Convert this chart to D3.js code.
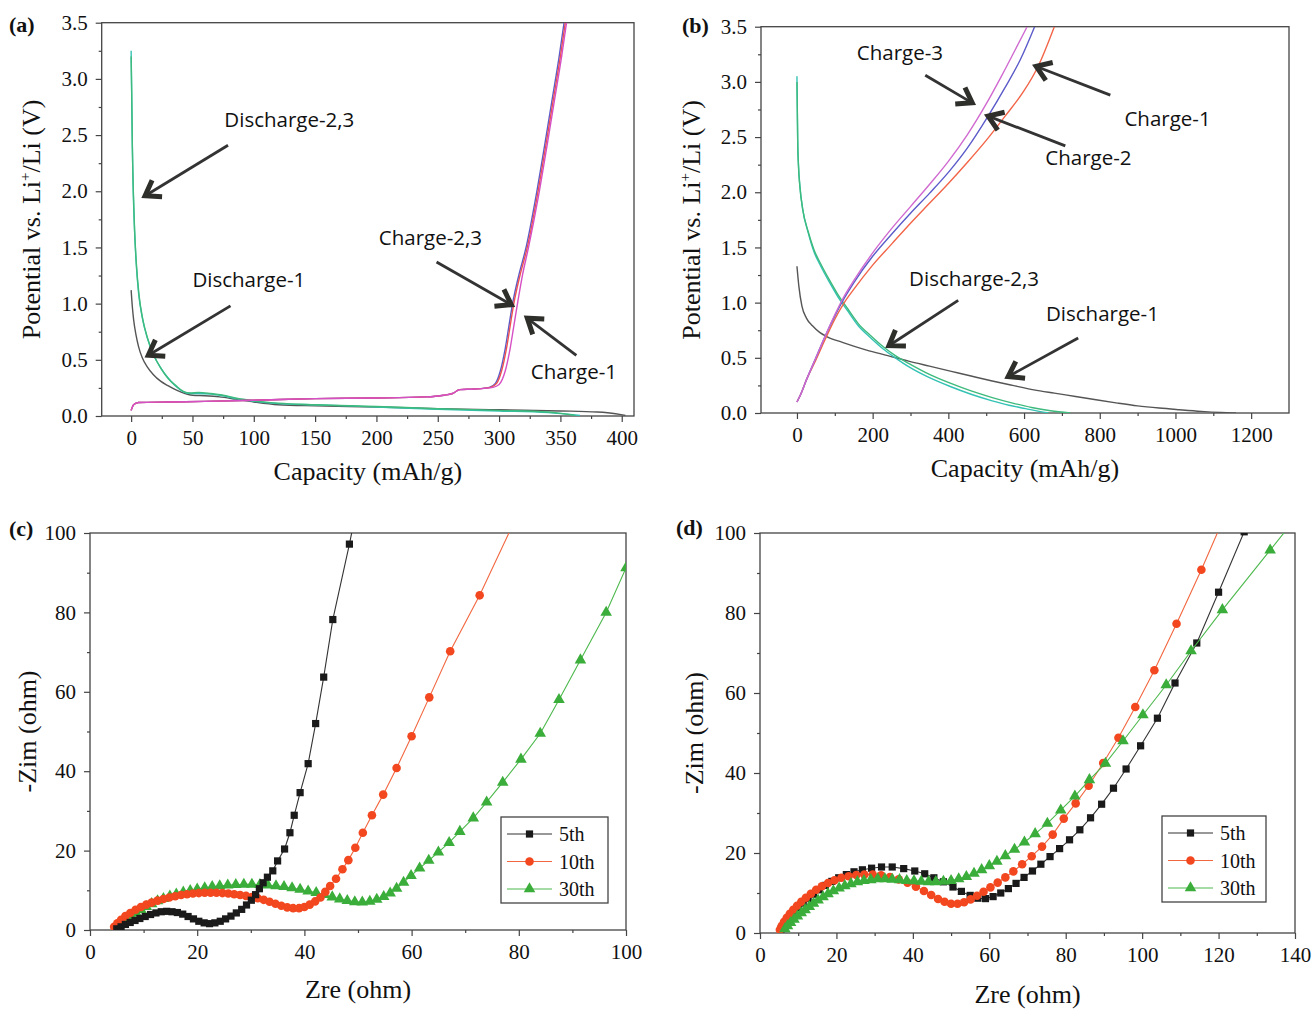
<!DOCTYPE html>
<html>
<head>
<meta charset="utf-8">
<script src="https://cdn.jsdelivr.net/npm/d3@7"></script>
<style>
  body { margin: 0; background: #fff; }
  text { font-family: "Liberation Serif", "Times New Roman", serif; fill: #111; }
  .note { font-family: "Open Sans", "Lato", sans-serif; }
</style>
</head>
<body>
<div id="chart"></div>
<script>
// ---- (a) charge/discharge, capacity (mAh/g) vs potential (V)
var aDis1 = [[0,1.12],[1,0.97],[2,0.86],[4,0.72],[6,0.62],[9,0.52],[13,0.44],[18,0.37],[24,0.31],[30,0.27],[37,0.23],[44,0.2],[50,0.185],[60,0.18],[72,0.17],[85,0.15],[100,0.125],[120,0.1],[150,0.09],[200,0.08],[250,0.065],[300,0.055],[350,0.045],[380,0.035],[395,0.02],[403,0.005]];
var aDis2 = [[0,3.25],[0.4,2.9],[0.9,2.45],[1.6,2.05],[2.6,1.7],[4,1.38],[6,1.1],[9,0.88],[13,0.7],[18,0.55],[24,0.43],[30,0.34],[36,0.27],[42,0.22],[48,0.2],[55,0.2],[65,0.195],[75,0.18],[85,0.155],[100,0.13],[120,0.11],[150,0.1],[200,0.08],[250,0.06],[300,0.045],[340,0.03],[366,0.005]];
var aDis3 = [[0,3.2],[0.5,2.85],[1,2.4],[1.8,2.0],[2.8,1.66],[4.3,1.35],[6.4,1.08],[9.5,0.86],[13.5,0.69],[18.5,0.54],[24.5,0.42],[30.5,0.33],[36.5,0.27],[42.5,0.22],[48,0.205],[55,0.21],[65,0.2],[75,0.185],[85,0.16],[100,0.135],[120,0.115],[150,0.1],[200,0.085],[250,0.065],[300,0.05],[340,0.035],[362,0.005]];
var aChg1 = [[0,0.05],[2,0.1],[6,0.12],[30,0.125],[60,0.13],[100,0.14],[150,0.155],[200,0.16],[240,0.17],[255,0.185],[262,0.2],[268,0.235],[280,0.24],[295,0.255],[300,0.28],[305,0.4],[309,0.6],[312,0.8],[315,1.0],[319,1.25],[324,1.5],[332,1.95],[339,2.4],[345,2.8],[351,3.2],[355,3.5]];
var aChg2 = [[0,0.05],[2,0.1],[6,0.12],[30,0.125],[60,0.13],[100,0.14],[150,0.155],[200,0.16],[240,0.17],[255,0.185],[262,0.2],[268,0.235],[280,0.24],[292,0.255],[297,0.29],[301,0.4],[305,0.6],[308,0.8],[311,1.0],[316,1.25],[322,1.5],[330,1.95],[337,2.4],[343,2.8],[349,3.2],[353,3.5]];
var aChg3 = [[0,0.05],[2,0.1],[6,0.12],[30,0.125],[60,0.13],[100,0.14],[150,0.155],[200,0.16],[240,0.17],[255,0.185],[262,0.2],[268,0.235],[280,0.24],[293,0.255],[298,0.29],[302,0.4],[306,0.6],[309,0.8],[312,1.0],[317,1.25],[323,1.5],[331,1.95],[338,2.4],[344,2.8],[350,3.2],[354,3.5]];

// ---- (b)
var bDis1 = [[0,1.33],[5,1.15],[13,0.97],[25,0.86],[41,0.79],[60,0.73],[80,0.69],[120,0.64],[184,0.57],[240,0.52],[295,0.47],[350,0.425],[405,0.38],[460,0.335],[516,0.29],[570,0.25],[626,0.21],[680,0.18],[736,0.15],[790,0.12],[847,0.09],[900,0.065],[957,0.045],[1010,0.03],[1068,0.015],[1120,0.005],[1160,0]];
var bDis2 = [[0,3.05],[1,2.75],[2,2.47],[4,2.25],[8,2.05],[15,1.85],[30,1.63],[45,1.46],[63,1.33],[85,1.19],[107,1.06],[135,0.92],[162,0.79],[195,0.68],[228,0.58],[260,0.5],[295,0.42],[350,0.32],[405,0.24],[460,0.17],[516,0.11],[560,0.07],[604,0.04],[640,0.015],[665,0]];
var bDis3 = [[0,3.0],[1,2.72],[2,2.45],[4,2.24],[8,2.04],[15,1.85],[30,1.64],[45,1.48],[63,1.35],[85,1.21],[107,1.08],[135,0.94],[162,0.81],[195,0.7],[228,0.6],[260,0.52],[295,0.45],[350,0.35],[405,0.27],[460,0.2],[516,0.14],[570,0.09],[620,0.05],[670,0.02],[722,0]];
var bChg1 = [[0,0.1],[10,0.17],[25,0.3],[50,0.48],[75,0.67],[100,0.85],[125,1.0],[150,1.12],[200,1.34],[250,1.53],[300,1.72],[350,1.9],[400,2.08],[450,2.27],[500,2.47],[550,2.69],[600,2.92],[637,3.14],[680,3.5]];
var bChg2 = [[0,0.1],[10,0.17],[25,0.3],[50,0.5],[75,0.7],[100,0.88],[125,1.04],[150,1.18],[200,1.42],[250,1.62],[300,1.81],[350,1.99],[400,2.18],[450,2.4],[505,2.69],[550,2.95],[590,3.2],[628,3.5]];
var bChg3 = [[0,0.1],[10,0.17],[25,0.3],[50,0.5],[75,0.7],[100,0.89],[125,1.06],[150,1.2],[200,1.45],[250,1.67],[300,1.87],[350,2.07],[400,2.28],[450,2.52],[500,2.8],[540,3.05],[575,3.28],[608,3.5]];

// ---- (c) Nyquist, Zre vs -Zim
var c5 = [[5,0.3],[5.8,0.8],[6.6,1.4],[7.5,1.9],[8.4,2.4],[9.3,2.9],[10.3,3.4],[11.3,3.9],[12.3,4.3],[13.3,4.6],[14.3,4.7],[15.3,4.6],[16.3,4.4],[17.3,4.0],[18.3,3.4],[19.3,2.8],[20.3,2.2],[21.3,1.8],[22.3,1.6],[23.3,1.8],[24.3,2.2],[25.3,2.8],[26.3,3.5],[27.3,4.3],[28.3,5.2],[29.2,6.3],[30.1,7.5],[30.9,8.9],[31.6,10.4],[32.3,11.9],[33.1,13.3],[34.1,14.9],[35.0,17.4],[36.3,20.4],[37.3,24.5],[38.1,28.9],[39.2,34.6],[40.7,41.9],[42.1,52],[43.6,63.7],[45.3,78.2],[48.4,97.2],[51.5,118]];
var c10 = [[4.5,0.8],[5.1,1.7],[5.8,2.6],[6.6,3.5],[7.5,4.3],[8.5,5.1],[9.5,5.8],[10.5,6.4],[11.5,6.9],[12.6,7.4],[13.7,7.8],[14.8,8.2],[15.9,8.5],[17,8.8],[18.1,9],[19.2,9.2],[20.3,9.3],[21.4,9.4],[22.5,9.4],[23.6,9.4],[24.7,9.3],[25.8,9.2],[26.9,9],[28,8.8],[29.1,8.6],[30.2,8.3],[31.3,8],[32.4,7.6],[33.5,7.1],[34.6,6.6],[35.7,6.1],[36.8,5.7],[37.9,5.5],[39,5.5],[40,5.8],[41,6.4],[42,7.2],[43,8.2],[43.9,9.6],[44.8,11.1],[45.9,12.9],[47.1,15.3],[48.2,17.6],[49.5,20.7],[50.9,24.5],[52.6,28.9],[54.7,34.1],[57.2,40.8],[60,48.8],[63.3,58.6],[67.2,70.2],[72.7,84.3],[79.2,103]];
var c30 = [[7,2.5],[7.8,3.4],[8.6,4.3],[9.5,5.1],[10.5,5.9],[11.5,6.6],[12.6,7.3],[13.7,7.9],[14.9,8.5],[16.1,9],[17.4,9.5],[18.7,9.9],[20,10.3],[21.4,10.6],[22.8,10.9],[24.2,11.1],[25.7,11.3],[27.2,11.4],[28.7,11.5],[30.2,11.5],[31.7,11.4],[33.2,11.3],[34.7,11.1],[36.2,10.9],[37.7,10.6],[39.2,10.2],[40.7,9.8],[42.2,9.4],[43.7,8.9],[45.2,8.3],[46.6,7.8],[48,7.4],[49.4,7.1],[50.8,7.0],[52.2,7.2],[53.5,7.7],[54.8,8.4],[56,9.3],[57.2,10.5],[58.5,12.0],[59.9,13.7],[61.5,15.6],[63.2,17.5],[65,19.6],[67,22],[69,24.8],[71.5,28.2],[74,32.2],[77,37.2],[80.4,43],[84,49.5],[87.5,58],[91.5,68],[96.3,80],[100,91.2],[104.5,103]];

// ---- (d)
var d5 = [[5.5,1],[6.3,2.2],[7.1,3.3],[8,4.3],[9,5.4],[10.1,6.4],[11.3,7.5],[12.6,8.6],[14,9.7],[15.5,10.8],[17.1,11.9],[18.8,12.9],[20.6,13.8],[22.6,14.6],[24.6,15.3],[26.8,15.8],[29.2,16.2],[31.8,16.5],[34.6,16.5],[37.6,16.1],[40.5,15.5],[43.1,14.8],[45.5,13.8],[48,12.8],[50.5,11.5],[52.7,10.4],[55,9.4],[57,8.7],[59,8.6],[61,9.1],[63,10],[65,11.1],[67,12.4],[69.1,13.9],[71.3,15.5],[73.5,17.2],[75.9,19.1],[78.4,21.1],[81,23.3],[83.7,25.8],[86.5,28.8],[89.4,32.2],[92.5,36.2],[95.8,41],[99.6,46.8],[104,53.7],[108.6,62.5],[114.3,72.5],[120,85.2],[126.7,100.3]];
var d10 = [[5.2,0.8],[5.7,1.8],[6.3,2.8],[7,3.8],[7.8,4.8],[8.7,5.8],[9.7,6.8],[10.8,7.8],[12,8.8],[13.3,9.8],[14.7,10.8],[16.2,11.7],[17.8,12.5],[19.5,13.2],[21.3,13.8],[23.2,14.2],[25.2,14.5],[27.3,14.6],[29.5,14.6],[31.7,14.4],[34,14],[36.3,13.4],[38.6,12.6],[40.8,11.6],[42.9,10.5],[44.8,9.5],[46.6,8.5],[48.3,7.8],[50,7.3],[51.7,7.3],[53.4,7.7],[55.1,8.4],[56.8,9.3],[58.5,10.3],[60.3,11.4],[62.2,12.6],[64.2,13.9],[66.3,15.4],[68.6,17.2],[71.1,19.2],[73.8,21.6],[76.6,24.6],[79.5,28.6],[82.6,32.4],[86,36.8],[89.8,42.5],[93.8,48.8],[98.2,56.5],[103.2,65.7],[109,77.3],[115.5,90.8],[121.5,104]];
var d30 = [[6.5,1],[7.2,1.8],[8,2.6],[8.9,3.4],[9.8,4.2],[10.8,5],[11.8,5.8],[12.9,6.6],[14,7.4],[15.2,8.2],[16.5,9],[17.8,9.8],[19.2,10.5],[20.7,11.2],[22.2,11.8],[23.8,12.3],[25.5,12.8],[27.2,13.1],[29,13.3],[30.8,13.5],[32.7,13.5],[34.6,13.4],[36.5,13.3],[38.4,13.1],[40.3,13],[42.2,12.9],[44.1,12.8],[46,12.8],[48,12.9],[50,13.1],[52,13.5],[54,14.1],[56,14.9],[58,15.8],[60,16.8],[62,17.9],[64.2,19.3],[66.6,20.9],[69.2,22.7],[72,24.8],[75.2,27.4],[78.7,30.7],[82.4,34.2],[86.2,38.3],[90.4,42.4],[95,48],[100.2,54.5],[106.3,62],[112.8,70.5],[121,80.8],[133.5,95.7],[140,103.5]];

var cycleNames = ["5th", "10th", "30th"];

// annotations (text, label centre, arrow from -> to), in data units
var notesA = [
  {text: "Discharge-2,3", tx: 129, ty: 2.63, x1: 79, y1: 2.41, x2: 11.4, y2: 1.96},
  {text: "Discharge-1",   tx: 96,  ty: 1.21, x1: 81, y1: 0.98, x2: 14, y2: 0.54},
  {text: "Charge-2,3",    tx: 244, ty: 1.58, x1: 249, y1: 1.37, x2: 310, y2: 0.99},
  {text: "Charge-1",      tx: 361, ty: 0.39, x1: 363, y1: 0.54, x2: 323, y2: 0.87}
];
var notesB = [
  {text: "Charge-3",      tx: 272, ty: 3.26, x1: 339, y1: 3.06, x2: 463, y2: 2.81},
  {text: "Charge-1",      tx: 979, ty: 2.66, x1: 828, y1: 2.88, x2: 632, y2: 3.14},
  {text: "Charge-2",      tx: 770, ty: 2.31, x1: 709, y1: 2.42, x2: 505, y2: 2.69},
  {text: "Discharge-2,3", tx: 468, ty: 1.21, x1: 426, y1: 1.02, x2: 243, y2: 0.61},
  {text: "Discharge-1",   tx: 807, ty: 0.9,  x1: 743, y1: 0.68, x2: 558, y2: 0.33}
];

var svg = d3.select("#chart").append("svg")
    .attr("width", 1314)
    .attr("height", 1009);

var frameColor = "#444";

// builds one panel: scales, ticks, frame and clip
function makePanel(p) {
  var x = d3.scaleLinear().domain(p.xd).range([p.l, p.r]);
  var y = d3.scaleLinear().domain(p.yd).range([p.b, p.t]);
  var g = svg.append("g");

  g.append("clipPath").attr("id", "clip-" + p.id)
    .append("rect")
      .attr("x", p.l).attr("y", p.t)
      .attr("width", p.r - p.l).attr("height", p.b - p.t);

  // minor ticks
  g.append("g")
      .attr("transform", "translate(0," + p.b + ")")
      .call(d3.axisBottom(x).tickValues(p.xMinor).tickSize(3).tickFormat(""));
  g.append("g")
      .attr("transform", "translate(" + p.l + ",0)")
      .call(d3.axisLeft(y).tickValues(p.yMinor).tickSize(3).tickFormat(""));

  // major ticks with labels
  g.append("g")
      .attr("transform", "translate(0," + p.b + ")")
      .call(d3.axisBottom(x).tickValues(p.xMajor).tickSize(6).tickPadding(8).tickFormat(p.xf));
  g.append("g")
      .attr("transform", "translate(" + p.l + ",0)")
      .call(d3.axisLeft(y).tickValues(p.yMajor).tickSize(6).tickPadding(8).tickFormat(p.yf));

  g.selectAll(".domain").remove();
  g.selectAll(".tick line").attr("stroke", frameColor).attr("stroke-width", 1.2);
  g.selectAll(".tick text")
      .style("font-family", "'Liberation Serif', serif")
      .style("font-size", "21px")
      .attr("fill", "#111");

  // frame
  g.append("rect")
      .attr("x", p.l).attr("y", p.t)
      .attr("width", p.r - p.l).attr("height", p.b - p.t)
      .attr("fill", "none")
      .attr("stroke", frameColor)
      .attr("stroke-width", 1.3);

  // axis titles
  g.append("text")
      .attr("x", (p.l + p.r) / 2)
      .attr("y", p.xTitleY)
      .attr("text-anchor", "middle")
      .style("font-size", "26px")
      .text(p.xTitle);

  var yt = g.append("text")
      .attr("transform", "translate(" + p.yTitleX + "," + (p.t + p.b) / 2 + ") rotate(-90)")
      .attr("text-anchor", "middle")
      .style("font-size", "26px");
  if (p.yTitle === "potential") {
    yt.append("tspan").text("Potential vs. Li");
    yt.append("tspan").attr("dy", -10).style("font-size", "15px").text("+");
    yt.append("tspan").attr("dy", 10).text("/Li (V)");
  } else {
    yt.text(p.yTitle);
  }

  // panel letter
  g.append("text")
      .attr("x", p.lx).attr("y", p.ly)
      .style("font-size", "22px")
      .style("font-weight", "bold")
      .text("(" + p.id + ")");

  var plot = g.append("g").attr("clip-path", "url(#clip-" + p.id + ")");
  return {x: x, y: y, g: g, plot: plot, p: p};
}

function drawCurve(panel, data, color) {
  var line = d3.line()
      .x(function(d) { return panel.x(d[0]); })
      .y(function(d) { return panel.y(d[1]); })
      .curve(d3.curveMonotoneX);
  panel.plot.append("path")
      .datum(data)
      .attr("fill", "none")
      .attr("stroke", color)
      .attr("stroke-width", 1.4)
      .attr("d", line);
}

function drawNotes(panel, notes) {
  notes.forEach(function(n) {
    var x1 = panel.x(n.x1), y1 = panel.y(n.y1), x2 = panel.x(n.x2), y2 = panel.y(n.y2);
    var ang = Math.atan2(y2 - y1, x2 - x1);
    var head = 17, spread = 0.6;
    panel.g.append("line")
        .attr("x1", x1).attr("y1", y1)
        .attr("x2", x2 - 3 * Math.cos(ang)).attr("y2", y2 - 3 * Math.sin(ang))
        .attr("stroke", "#333")
        .attr("stroke-width", 2.8);
    var a1 = ang + Math.PI - spread, a2 = ang + Math.PI + spread;
    panel.g.append("path")
        .attr("d", "M" + (x2 + head * Math.cos(a1)) + "," + (y2 + head * Math.sin(a1)) +
                   "L" + x2 + "," + y2 +
                   "L" + (x2 + head * Math.cos(a2)) + "," + (y2 + head * Math.sin(a2)))
        .attr("fill", "none")
        .attr("stroke", "#2e2e2a")
        .attr("stroke-width", 5)
        .attr("stroke-linejoin", "miter");
    panel.g.append("text")
        .attr("class", "note")
        .attr("x", panel.x(n.tx))
        .attr("y", panel.y(n.ty) + 7)
        .attr("text-anchor", "middle")
        .style("font-size", "20.5px")
        .text(n.text);
  });
}

var symbols = [d3.symbolSquare, d3.symbolCircle, d3.symbolTriangle];
var symColors = ["#1a1a1a", "#f2471f", "#3aad3a"];
var lineColors = ["#333", "#f2663f", "#4cb84c"];

function drawNyquist(panel, data, i) {
  var line = d3.line()
      .x(function(d) { return panel.x(d[0]); })
      .y(function(d) { return panel.y(d[1]); });
  panel.plot.append("path")
      .datum(data)
      .attr("fill", "none")
      .attr("stroke", lineColors[i])
      .attr("stroke-width", 1.1)
      .attr("d", line);
  panel.plot.selectAll(".pt" + i)
      .data(data)
    .enter().append("path")
      .attr("class", "pt" + i)
      .attr("transform", function(d) { return "translate(" + panel.x(d[0]) + "," + panel.y(d[1]) + ")"; })
      .attr("d", d3.symbol().type(symbols[i]).size(i === 0 ? 52 : 58))
      .attr("fill", symColors[i]);
}

function drawLegend(panel, box) {
  var g = panel.g.append("g").attr("transform", "translate(" + box.x + "," + box.y + ")");
  g.append("rect")
      .attr("width", box.w).attr("height", box.h)
      .attr("fill", "#fff")
      .attr("stroke", "#444")
      .attr("stroke-width", 1.3);
  cycleNames.forEach(function(name, i) {
    var yy = 17 + i * 27.5;
    g.append("line")
        .attr("x1", 6).attr("x2", 51).attr("y1", yy).attr("y2", yy)
        .attr("stroke", lineColors[i]).attr("stroke-width", 1.1);
    g.append("path")
        .attr("transform", "translate(28.5," + yy + ")")
        .attr("d", d3.symbol().type(symbols[i]).size(i === 0 ? 52 : 58))
        .attr("fill", symColors[i]);
    g.append("text")
        .attr("x", 58).attr("y", yy + 7)
        .style("font-size", "20px")
        .text(name);
  });
}

var fmt1 = d3.format(".1f");
var fmt0 = d3.format("d");

// ---------- panel (a)
var pa = makePanel({
  id: "a", l: 101.7, t: 22.7, r: 634, b: 416,
  xd: [-24, 410], yd: [0, 3.5],
  xMajor: d3.range(0, 401, 50), xMinor: d3.range(25, 400, 50),
  yMajor: d3.range(0, 3.51, 0.5), yMinor: d3.range(0.25, 3.5, 0.5),
  xf: fmt0, yf: fmt1,
  xTitle: "Capacity (mAh/g)", yTitle: "potential",
  xTitleY: 480, yTitleX: 40, lx: 9, ly: 32
});
drawCurve(pa, aDis1, "#555");
drawCurve(pa, aDis2, "#33c2b4");
drawCurve(pa, aDis3, "#3dba7c");
drawCurve(pa, aChg2, "#5b5bc9");
drawCurve(pa, aChg3, "#ef5050");
drawCurve(pa, aChg1, "#d64fc4");
drawNotes(pa, notesA);

// ---------- panel (b)
var pb = makePanel({
  id: "b", l: 761, t: 26.7, r: 1289, b: 413,
  xd: [-95, 1300], yd: [0, 3.5],
  xMajor: d3.range(0, 1201, 200), xMinor: d3.range(100, 1300, 200),
  yMajor: d3.range(0, 3.51, 0.5), yMinor: d3.range(0.25, 3.5, 0.5),
  xf: fmt0, yf: fmt1,
  xTitle: "Capacity (mAh/g)", yTitle: "potential",
  xTitleY: 477, yTitleX: 700, lx: 682, ly: 33
});
drawCurve(pb, bDis1, "#555");
drawCurve(pb, bDis2, "#33c2b4");
drawCurve(pb, bDis3, "#3dba7c");
drawCurve(pb, bChg1, "#f26548");
drawCurve(pb, bChg2, "#5b5bc9");
drawCurve(pb, bChg3, "#d06ad0");
drawNotes(pb, notesB);

// ---------- panel (c)
var pc = makePanel({
  id: "c", l: 90, t: 533, r: 626, b: 930,
  xd: [0, 100], yd: [0, 100],
  xMajor: d3.range(0, 101, 20), xMinor: d3.range(10, 100, 20),
  yMajor: d3.range(0, 101, 20), yMinor: d3.range(10, 100, 20),
  xf: fmt0, yf: fmt0,
  xTitle: "Zre (ohm)", yTitle: "-Zim (ohm)",
  xTitleY: 998, yTitleX: 36, lx: 9, ly: 536
});
drawNyquist(pc, c30, 2);
drawNyquist(pc, c10, 1);
drawNyquist(pc, c5, 0);
drawLegend(pc, {x: 501, y: 817, w: 107, h: 86});

// ---------- panel (d)
var pd = makePanel({
  id: "d", l: 760, t: 533, r: 1295, b: 933,
  xd: [0, 140], yd: [0, 100],
  xMajor: d3.range(0, 141, 20), xMinor: d3.range(10, 140, 20),
  yMajor: d3.range(0, 101, 20), yMinor: d3.range(10, 100, 20),
  xf: fmt0, yf: fmt0,
  xTitle: "Zre (ohm)", yTitle: "-Zim (ohm)",
  xTitleY: 1003, yTitleX: 703, lx: 676, ly: 535
});
drawNyquist(pd, d5, 0);
drawNyquist(pd, d10, 1);
drawNyquist(pd, d30, 2);
drawLegend(pd, {x: 1162, y: 816, w: 104, h: 86});
</script>
</body>
</html>
